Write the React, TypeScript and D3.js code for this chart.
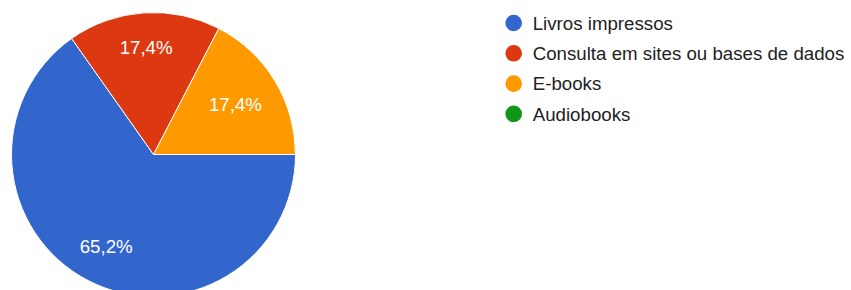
import { useEffect, useRef } from 'react';
import * as d3 from 'd3';

// ─── Data ───────────────────────────────────────────────
const categories = ['Livros impressos', 'Consulta em sites ou bases de dados', 'E-books', 'Audiobooks'];
const counts = [15, 4, 4, 0];
const colors = ['#3366cc', '#dc3912', '#ff9900', '#109618'];

const WIDTH = 851;
const HEIGHT = 290;

export default function App() {
  const svgRef = useRef<SVGSVGElement>(null);

  useEffect(() => {
    if (!svgRef.current) return;
    const svg = d3.select(svgRef.current);
    svg.selectAll('*').remove();

    const cx = 153.5;
    const cy = 154.5;
    const r = 142;
    const font = 'Arial, "Liberation Sans", sans-serif';

    const total = d3.sum(counts);
    const pie = d3
      .pie<number>()
      .sort(null)
      .startAngle(Math.PI / 2)
      .endAngle(Math.PI / 2 + 2 * Math.PI);
    const arcs = pie(counts);
    const arc = d3.arc<d3.PieArcDatum<number>>().innerRadius(0).outerRadius(r);

    const g = svg.append('g').attr('transform', `translate(${cx},${cy})`);

    g.selectAll('path.slice')
      .data(arcs.filter((a) => a.value > 0))
      .join('path')
      .attr('class', 'slice')
      .attr('d', arc)
      .attr('fill', (d) => colors[d.index])
      .attr('stroke', '#ffffff')
      .attr('stroke-width', 1);

    // ─── Slice labels ───────────────────────────────────
    const fmt = (v: number) => ((v / total) * 100).toFixed(1).replace('.', ',') + '%';
    arcs
      .filter((a) => a.value > 0)
      .forEach((a) => {
        const text = g
          .append('text')
          .attr('fill', '#ffffff')
          .attr('font-family', font)
          .attr('font-size', 18.7)
          .attr('text-anchor', 'middle')
          .text(fmt(a.value));
        const w = (text.node() as SVGTextElement).getComputedTextLength();
        const h = 13.5;
        const mid = (a.startAngle + a.endAngle) / 2;
        let lr = r * 0.76;
        // pull label inward until its box sits inside the pie
        for (; lr > 20; lr -= 0.5) {
          const x = Math.sin(mid) * lr;
          const y = -Math.cos(mid) * lr;
          if (Math.hypot(Math.abs(x) + w / 2, Math.abs(y) + h / 2) <= r * 0.865) break;
        }
        const x = Math.sin(mid) * lr;
        const y = -Math.cos(mid) * lr;
        text.attr('x', x).attr('y', y + h / 2);
      });

    // ─── Legend ─────────────────────────────────────────
    const legend = svg.append('g').attr('transform', 'translate(513.7,23)');
    const rowY = d3.scaleLinear().domain([0, 1]).range([0, 30.3]);
    const rows = legend
      .selectAll('g.row')
      .data(categories)
      .join('g')
      .attr('class', 'row')
      .attr('transform', (_, i) => `translate(0,${rowY(i)})`);
    rows
      .append('circle')
      .attr('r', 8.3)
      .attr('fill', (_, i) => colors[i]);
    rows
      .append('text')
      .attr('x', 19)
      .attr('y', 6.7)
      .attr('font-family', font)
      .attr('font-size', 18.7)
      .attr('fill', '#222222')
      .text((d) => d);
  }, []);

  return (
    <div style={{ position: 'absolute', left: 0, top: 0, width: WIDTH, height: HEIGHT, background: '#fff' }}>
      <svg ref={svgRef} width={WIDTH} height={HEIGHT} />
    </div>
  );
}
